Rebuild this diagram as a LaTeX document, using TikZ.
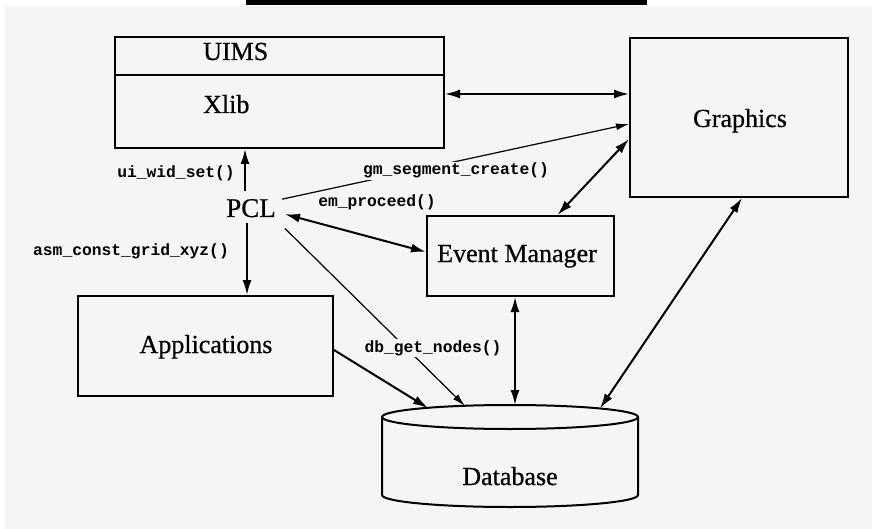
\documentclass[tikz,border=0pt]{standalone}
\usepackage{fontspec}
\setmainfont{Liberation Serif}
\newfontfamily\titlefont{Liberation Serif}[FakeBold=0.6]
\newfontfamily\codefont{Liberation Mono}
\usetikzlibrary{arrows.meta,calc}
\definecolor{paper}{RGB}{245,245,245}

\begin{document}
\begin{tikzpicture}[x=1pt,y=-1pt,
  box/.style={draw, line width=2pt, inner sep=0pt},
  ttl/.style={font=\titlefont\fontsize{26}{30}\selectfont, inner sep=0pt},
  lbl/.style={font=\codefont\bfseries\fontsize{16.3}{18}\selectfont, inner sep=1.5pt, fill=paper},
  conn/.style={line width=2pt},
  thinline/.style={line width=1.2pt},
  >={Latex[length=15pt,width=9pt]},
  sharp/.style={-{Latex[length=13pt,width=7pt]}}]

% paper and the bar across the top
\useasboundingbox (0,0) rectangle (872,529);
\fill[white] (0,0) rectangle (872,529);
\fill[paper] (5,6) rectangle (872,529);
\fill[black] (246,0) rectangle (647,5);

% boxes
\node[box, minimum width=329pt, minimum height=38pt] (uims) at (279.5,56) {};
\node[box, minimum width=329pt, minimum height=73pt] (xlib) at (279.5,111.5) {};
\node[box, minimum width=218pt, minimum height=159pt] (graphics) at (739,117.5) {};
\node[box, minimum width=187pt, minimum height=80pt] (em) at (520.5,256) {};
\node[box, minimum width=255pt, minimum height=100pt] (apps) at (205.5,346) {};

% database cylinder
\draw[line width=2pt, fill=paper] (382,417) -- (382,495)
  arc[start angle=180, end angle=360, x radius=128pt, y radius=12pt] -- (638,417);
\draw[line width=2pt] (510,417) ellipse [x radius=128pt, y radius=12pt];
\coordinate (dbA) at (428,408);
\coordinate (dbB) at (465,406);
\coordinate (dbC) at (515,405);
\coordinate (dbD) at (600,408.5);

% box titles
\node[ttl, anchor=base west] (uimsT) at (203,60) {UIMS};
\node[ttl, anchor=base west] (xlibT) at (203,113) {Xlib};
\node[ttl, anchor=base] (graphicsT) at (740,127) {Graphics};
\node[ttl, anchor=base] (emT) at (517,262) {Event Manager};
\node[ttl, anchor=base] (appsT) at (206,353) {Applications};
\node[ttl, anchor=base] (dbT) at (510,485) {Database};
\node[ttl, font=\titlefont\fontsize{27}{30}\selectfont, anchor=base] (pcl) at (251,217) {PCL};

% connectors
\coordinate (busY) at (0,94);
\draw[conn,<->] (xlib.east |- busY) -- (graphics.west |- busY);

\coordinate (pclUp) at ([xshift=-6pt,yshift=8pt]pcl.north);
\draw[conn,->] (pclUp) -- (pclUp |- xlib.south);
\coordinate (pclDn) at ([xshift=-4pt,yshift=-6pt]pcl.south);
\draw[conn,->] (pclDn) -- (pclDn |- apps.north);

\draw[thinline,sharp] ([xshift=6pt,yshift=9pt]pcl.east) -- ([yshift=-6.5pt]graphics.west);
\draw[conn,<->] ([xshift=9pt,yshift=-6pt]pcl.east) -- ([yshift=4pt]em.west);
\draw[thinline,sharp] ([xshift=9pt,yshift=-11pt]pcl.south east) -- (dbB);

\draw[conn,<->] ([xshift=37pt]em.north) -- ([yshift=-21.5pt]graphics.west);
\coordinate (emDn) at ([xshift=-5.5pt]em.south);
\draw[conn,<->] (emDn) -- (emDn |- dbC);
\draw[conn,<->] ([xshift=3pt]graphics.south) -- (dbD);
\draw[conn,->] ([yshift=-4pt]apps.east) -- (dbA);

% call labels
\node[lbl, anchor=base] (lblUi) at (176,178) {ui\_wid\_set()};
\node[lbl, anchor=base] (lblGm) at (456,175) {gm\_segment\_create()};
\node[lbl, anchor=base] (lblEm) at (377,207) {em\_proceed()};
\node[lbl, anchor=base] (lblAsm) at (131,255) {asm\_const\_grid\_xyz()};
\node[lbl, anchor=base] (lblDb) at (433,352) {db\_get\_nodes()};
\end{tikzpicture}
\end{document}
